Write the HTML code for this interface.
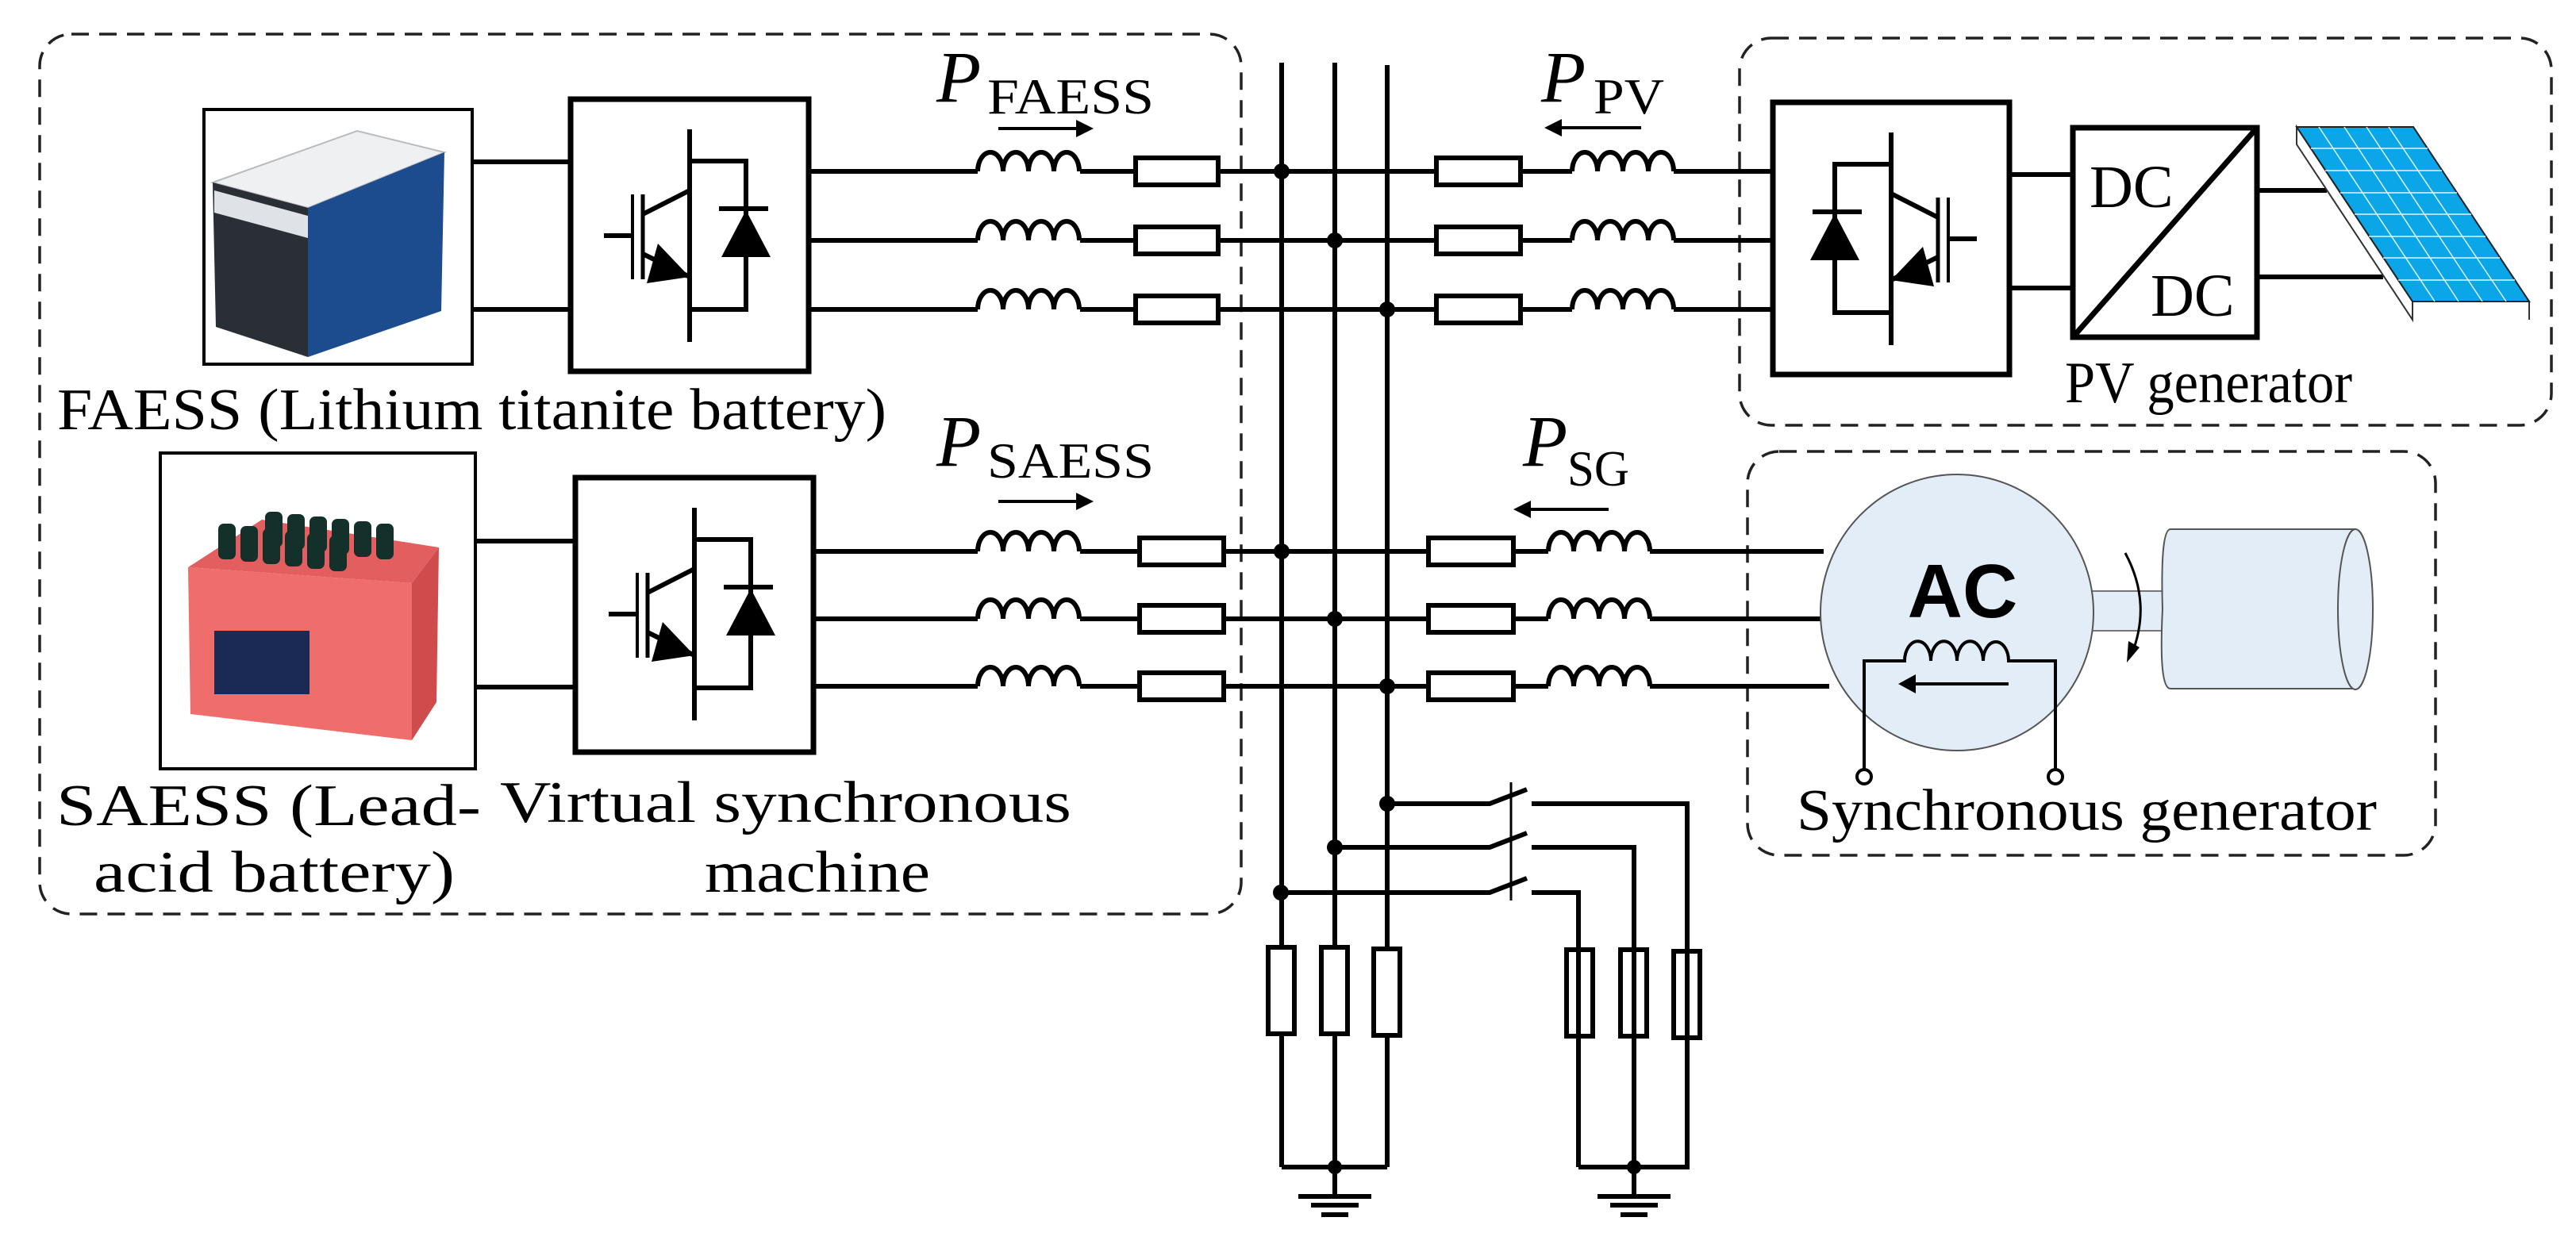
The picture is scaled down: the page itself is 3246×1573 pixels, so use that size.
<!DOCTYPE html>
<html><head><meta charset="utf-8"><style>
html,body{margin:0;padding:0;background:#fff}
svg{display:block}
</style></head><body>
<svg width="3246" height="1573" viewBox="0 0 3246 1573" xmlns="http://www.w3.org/2000/svg">
<defs>
<g id="coil"><path d="M0,0 a16,24 0 0 1 32,0 a16,24 0 0 1 32,0 a16,24 0 0 1 32,0 a16,24 0 0 1 32,0" fill="none" stroke="#000" stroke-width="6"/></g>
<g id="sw">
 <path d="M150,38 V306 M150,78 H221 V265 H150" fill="none" stroke="#000" stroke-width="6"/>
 <line x1="187" y1="138" x2="249" y2="138" stroke="#000" stroke-width="6"/>
 <polygon points="221,140 190,199 252,199" fill="#000"/>
 <line x1="42" y1="172" x2="78" y2="172" stroke="#000" stroke-width="6"/>
 <line x1="78" y1="120" x2="78" y2="227" stroke="#000" stroke-width="4"/>
 <line x1="91" y1="120" x2="91" y2="227" stroke="#000" stroke-width="5"/>
 <line x1="91" y1="145" x2="150" y2="115" stroke="#000" stroke-width="6"/>
 <line x1="91" y1="195" x2="150" y2="224" stroke="#000" stroke-width="6"/>
 <polygon points="150,224 96,232 110,182" fill="#000"/>
</g>
</defs>

<g fill="none" stroke="#222" stroke-width="3.5" stroke-dasharray="22,13">
 <rect x="50" y="43" width="1514" height="1109" rx="40"/>
 <rect x="2192" y="48" width="1023" height="488" rx="40"/>
 <rect x="2202" y="569" width="867" height="509" rx="40"/>
</g>

<g stroke="#000" stroke-width="6" fill="none">
 <line x1="1615" y1="79" x2="1615" y2="1471"/>
 <line x1="1682" y1="79" x2="1682" y2="1471"/>
 <line x1="1748" y1="82" x2="1748" y2="1471"/>
 <path d="M1019,216 H1232 M1361,216 H1431 M1535,216 H1810 M1916,216 H1981 M2109,216 H2234"/>
 <path d="M1019,303 H1232 M1361,303 H1431 M1535,303 H1810 M1916,303 H1981 M2109,303 H2234"/>
 <path d="M1019,390 H1232 M1361,390 H1431 M1535,390 H1810 M1916,390 H1981 M2109,390 H2234"/>
 <path d="M1025,695 H1232 M1361,695 H1436 M1542,695 H1800 M1907,695 H1951 M2079,695 H2298"/>
 <path d="M1025,780 H1232 M1361,780 H1436 M1542,780 H1800 M1907,780 H1951 M2079,780 H2294"/>
 <path d="M1025,865 H1232 M1361,865 H1436 M1542,865 H1800 M1907,865 H1951 M2079,865 H2305"/>
 <path d="M595,204 H719 M595,390 H719 M598,682 H725 M598,866 H725"/>
 <path d="M2532,220 H2612 M2532,363 H2612 M2844,240 H2932 M2844,349 H3003"/>
</g>
<g fill="#fff" stroke="#000" stroke-width="6">
 <rect x="1431" y="199" width="104" height="34"/><rect x="1431" y="286" width="104" height="34"/><rect x="1431" y="373" width="104" height="34"/>
 <rect x="1436" y="678" width="106" height="34"/><rect x="1436" y="763" width="106" height="34"/><rect x="1436" y="848" width="106" height="34"/>
 <rect x="1810" y="199" width="106" height="34"/><rect x="1810" y="286" width="106" height="34"/><rect x="1810" y="373" width="106" height="34"/>
 <rect x="1800" y="678" width="107" height="34"/><rect x="1800" y="763" width="107" height="34"/><rect x="1800" y="848" width="107" height="34"/>
 <rect x="1598" y="1194" width="33" height="109"/><rect x="1665" y="1194" width="33" height="109"/><rect x="1731" y="1196" width="33" height="109"/>
 <rect x="1974" y="1197" width="33" height="109"/><rect x="2042" y="1197" width="33" height="109"/><rect x="2109" y="1199" width="33" height="109"/>
</g>
<use href="#coil" x="1232" y="216"/><use href="#coil" x="1232" y="303"/><use href="#coil" x="1232" y="390"/>
<use href="#coil" x="1232" y="695"/><use href="#coil" x="1232" y="780"/><use href="#coil" x="1232" y="865"/>
<use href="#coil" x="1981" y="216"/><use href="#coil" x="1981" y="303"/><use href="#coil" x="1981" y="390"/>
<use href="#coil" x="1951" y="695"/><use href="#coil" x="1951" y="780"/><use href="#coil" x="1951" y="865"/>
<g fill="#000">
 <circle cx="1615" cy="216" r="10"/><circle cx="1682" cy="303" r="10"/><circle cx="1748" cy="390" r="10"/>
 <circle cx="1615" cy="695" r="10"/><circle cx="1682" cy="780" r="10"/><circle cx="1748" cy="865" r="10"/>
 <circle cx="1748" cy="1013" r="10"/><circle cx="1682" cy="1068" r="10"/><circle cx="1614" cy="1125" r="10"/>
 <circle cx="1682" cy="1471" r="9"/><circle cx="2059" cy="1471" r="9"/>
</g>
<g stroke="#000" stroke-width="6" fill="none">
 <path d="M1748,1013 H1877 L1924,995 M1930,1013 H2126 V1471 H1989"/>
 <path d="M1682,1068 H1877 L1924,1050 M1930,1068 H2059 V1471"/>
 <path d="M1614,1125 H1877 L1924,1107 M1930,1125 H1989 V1471"/>
 <path d="M1615,1471 H1748"/>
 <path d="M1682,1471 V1508 M2059,1471 V1508"/>
 <path d="M1636,1508 H1728 M1652,1519 H1712 M1665,1531 H1699"/>
 <path d="M2013,1508 H2105 M2029,1519 H2089 M2042,1531 H2076"/>
</g>
<line x1="1904" y1="986" x2="1904" y2="1135" stroke="#000" stroke-width="3"/>

<g fill="none" stroke="#000" stroke-width="7">
 <rect x="719" y="125" width="300" height="343"/>
 <rect x="725" y="602" width="300" height="346"/>
 <rect x="2234" y="129" width="298" height="343"/>
 <rect x="2612" y="161" width="232" height="264"/>
 <line x1="2612" y1="425" x2="2844" y2="161"/>
</g>
<use href="#sw" x="719" y="125"/>
<use href="#sw" x="725" y="602"/>
<g transform="translate(2533,129) scale(-1,1)"><use href="#sw" x="0" y="0"/></g>

<polygon points="2894,160 2894,182 3040,403 3040,380" fill="#fff" stroke="#333" stroke-width="2"/>
<line x1="3187" y1="380" x2="3187" y2="403" stroke="#333" stroke-width="2"/>
<polygon points="2894,160 3041,160 3187,380 3040,380" fill="#0aa6e8" stroke="#222" stroke-width="2"/>
<g stroke="#dff4ff" stroke-width="1.5">
 <line x1="2922" y1="160" x2="3068" y2="380"/><line x1="2954" y1="160" x2="3098" y2="380"/><line x1="2982" y1="160" x2="3128" y2="380"/><line x1="3010" y1="160" x2="3158" y2="380"/>
 <line x1="2912" y1="187" x2="3059" y2="187"/><line x1="2930" y1="215" x2="3077" y2="215"/><line x1="2949" y1="243" x2="3096" y2="243"/><line x1="2967" y1="270" x2="3114" y2="270"/><line x1="2985" y1="298" x2="3132" y2="298"/><line x1="3003" y1="325" x2="3150" y2="325"/><line x1="3022" y1="353" x2="3169" y2="353"/>
</g>

<rect x="2630" y="745" width="100" height="50" fill="#e3edf8" stroke="#777" stroke-width="2"/>
<ellipse cx="2466" cy="772" rx="172" ry="174" fill="#e3edf8" stroke="#555" stroke-width="2"/>
<path d="M2735,667 H2968 V868 H2735 Q2720,868 2725,768 Q2722,667 2735,667 Z" fill="#e3edf8" stroke="#555" stroke-width="2"/>
<ellipse cx="2968" cy="768" rx="22" ry="101" fill="#e3edf8" stroke="#555" stroke-width="2"/>
<path d="M2678,697 Q2712,760 2686,825" fill="none" stroke="#000" stroke-width="3"/>
<polygon points="2680,835 2682,808 2696,816" fill="#000"/>
<text x="2473" y="778" font-family="'Liberation Sans', sans-serif" font-weight="bold" font-size="96" text-anchor="middle">AC</text>
<path d="M2349,971 V833 H2400 a16,24 0 0 1 33,0 a16,24 0 0 1 33,0 a16,24 0 0 1 33,0 a16,24 0 0 1 32,0 H2590 V971" fill="none" stroke="#000" stroke-width="4"/>
<line x1="2531" y1="862" x2="2410" y2="862" stroke="#000" stroke-width="4"/>
<polygon points="2392,862 2414,850 2414,874" fill="#000"/>
<circle cx="2349" cy="979" r="9" fill="#fff" stroke="#000" stroke-width="4"/>
<circle cx="2590" cy="979" r="9" fill="#fff" stroke="#000" stroke-width="4"/>

<rect x="257" y="138" width="338" height="321" fill="#fff" stroke="#000" stroke-width="4"/>
<polygon points="268,230 450,165 560,192 388,262" fill="#eef0f2" stroke="#bbb" stroke-width="2"/>
<polygon points="268,230 388,262 388,450 272,412" fill="#2a2e35"/>
<polygon points="388,262 560,192 556,392 388,450" fill="#1c4c8e"/>
<polygon points="270,240 388,272 388,300 270,268" fill="#dfe3e8"/>
<rect x="202" y="571" width="397" height="398" fill="#fff" stroke="#000" stroke-width="4"/>
<polygon points="237,715 330,655 553,690 519,735" fill="#e35e5e"/>
<polygon points="237,715 519,735 519,933 240,900" fill="#ef6d6b"/>
<polygon points="519,735 553,690 550,885 519,933" fill="#d04c4c"/>
<rect x="270" y="795" width="120" height="80" fill="#1a2a55"/>
<g fill="#14302a">
 <rect x="334" y="645" width="22" height="45" rx="7"/><rect x="362" y="648" width="22" height="45" rx="7"/><rect x="390" y="651" width="22" height="45" rx="7"/><rect x="418" y="654" width="22" height="45" rx="7"/><rect x="446" y="657" width="22" height="45" rx="7"/><rect x="474" y="660" width="22" height="45" rx="7"/>
 <rect x="275" y="660" width="22" height="45" rx="7"/><rect x="303" y="663" width="22" height="45" rx="7"/><rect x="331" y="666" width="22" height="45" rx="7"/><rect x="359" y="669" width="22" height="45" rx="7"/><rect x="387" y="672" width="22" height="45" rx="7"/><rect x="415" y="675" width="22" height="45" rx="7"/>
</g>

<g font-family="'Liberation Serif', 'Times New Roman', serif" fill="#000">
<text x="2633" y="261" font-size="76">DC</text>
<text x="2710" y="398" font-size="76">DC</text>
<text x="72" y="541" font-size="74" textLength="1045" lengthAdjust="spacingAndGlyphs">FAESS (Lithium titanite battery)</text>
<text x="71" y="1040" font-size="74" textLength="535" lengthAdjust="spacingAndGlyphs">SAESS (Lead-</text>
<text x="118" y="1124" font-size="74" textLength="455" lengthAdjust="spacingAndGlyphs">acid battery)</text>
<text x="630" y="1036" font-size="74" textLength="720" lengthAdjust="spacingAndGlyphs">Virtual synchronous</text>
<text x="888" y="1124" font-size="74" textLength="284" lengthAdjust="spacingAndGlyphs">machine</text>
<text x="2602" y="507" font-size="74" textLength="362" lengthAdjust="spacingAndGlyphs">PV generator</text>
<text x="2264" y="1046" font-size="74" textLength="731" lengthAdjust="spacingAndGlyphs">Synchronous generator</text>
<text x="1180" y="128" font-size="92" font-style="italic">P</text>
<text x="1244" y="143" font-size="64" textLength="210" lengthAdjust="spacingAndGlyphs">FAESS</text>
<text x="1180" y="587" font-size="92" font-style="italic">P</text>
<text x="1244" y="602" font-size="64" textLength="210" lengthAdjust="spacingAndGlyphs">SAESS</text>
<text x="1942" y="128" font-size="92" font-style="italic">P</text>
<text x="2008" y="143" font-size="64" textLength="89" lengthAdjust="spacingAndGlyphs">PV</text>
<text x="1919" y="587" font-size="92" font-style="italic">P</text>
<text x="1975" y="612" font-size="64" textLength="78" lengthAdjust="spacingAndGlyphs">SG</text>
</g>

<g stroke="#000" stroke-width="4">
 <line x1="1258" y1="162" x2="1360" y2="162"/><line x1="1258" y1="632" x2="1360" y2="632"/>
 <line x1="2068" y1="161" x2="1964" y2="161"/><line x1="2027" y1="642" x2="1925" y2="642"/>
</g>
<g fill="#000">
 <polygon points="1378,162 1356,151 1356,173"/><polygon points="1378,632 1356,621 1356,643"/>
 <polygon points="1946,161 1968,150 1968,172"/><polygon points="1907,642 1929,631 1929,653"/>
</g>
</svg>
</body></html>
